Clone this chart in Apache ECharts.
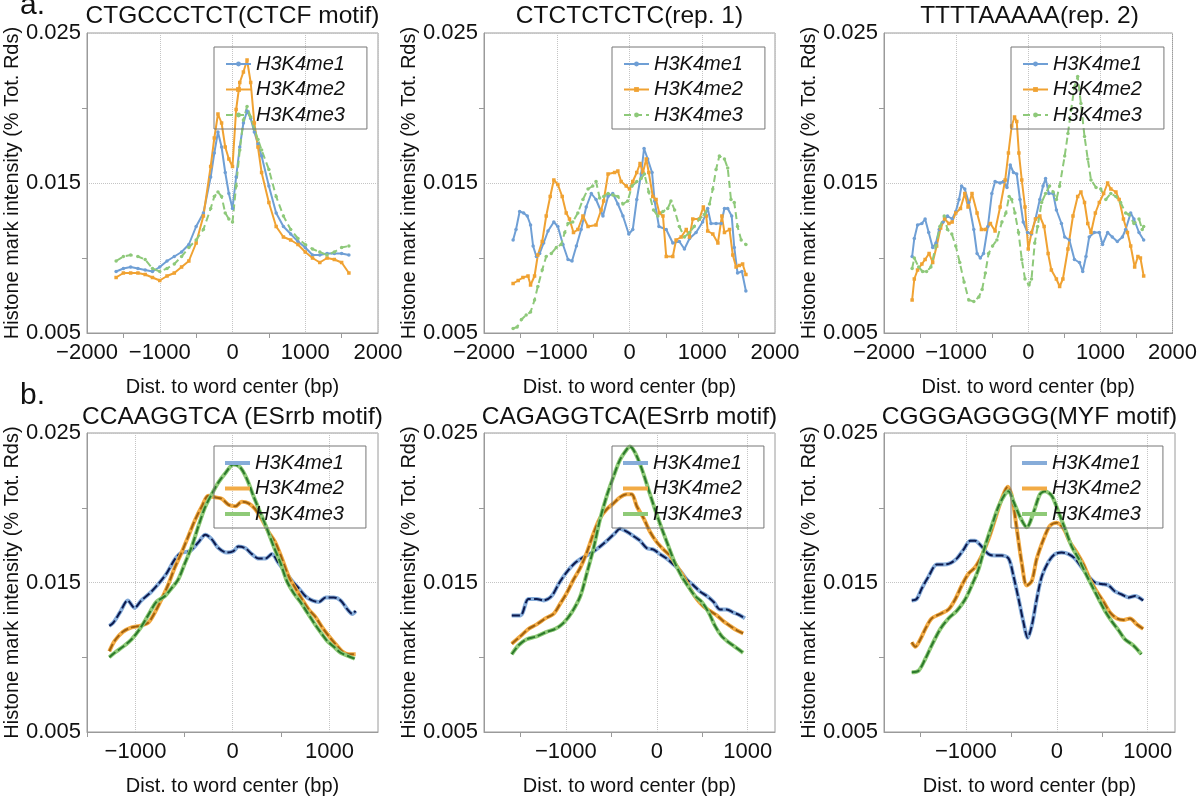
<!DOCTYPE html>
<html><head><meta charset="utf-8">
<script src="https://cdn.jsdelivr.net/npm/echarts@6/dist/echarts.min.js"></script>
<style>html,body{margin:0;padding:0;background:#fff}#c{width:1200px;height:797px}</style>
</head><body><div id="c"></div>
<script>
// ---------------- DATA ----------------
const NAMES = ['H3K4me1', 'H3K4me2', 'H3K4me3'];
const TITLES = ['CTGCCCTCT(CTCF motif)', 'CTCTCTCTC(rep. 1)', 'TTTTAAAAA(rep. 2)',
                'CCAAGGTCA (ESrrb motif)', 'CAGAGGTCA(ESrrb motif)', 'CGGGAGGGG(MYF motif)'];
const PANEL_TAGS = ['a.', 'b.'];
const X_TITLE = 'Dist. to word center (bp)';
const Y_TITLE = 'Histone mark intensity (% Tot. Rds)';
const Y_RANGE = [0.005, 0.025];
const Y_LABELS = [0.005, 0.015, 0.025];
const Y_MINOR = [0.010, 0.020];
const X_RANGES = [[-2000, 2000], [-2000, 2000], [-2000, 2000], [-1500, 1500], [-1900, 1300], [-1900, 1300]];
const X_LABELS_A = [-2000, -1000, 0, 1000, 2000];
const X_MINOR_A = [-1500, -500, 500, 1500];
const X_LABELS_B = [-1000, 0, 1000];
const X_MINOR_B = [-1500, -500, 500];

// panel a1: CTGCCCTCT
const A1_ME1 = [[-1600,.0091],[-1500,.0093],[-1400,.0094],[-1300,.0093],[-1200,.0092],[-1100,.0091],[-1000,.0094],[-900,.0098],[-800,.0101],[-700,.0104],[-600,.0109],[-500,.0121],[-400,.0130],[-300,.0154],[-250,.0170],[-200,.0184],[-150,.0174],[-100,.0157],[-50,.0143],[0,.0133],[50,.0154],[100,.0174],[150,.0190],[200,.0198],[250,.0193],[300,.0184],[350,.0176],[400,.0168],[500,.0148],[600,.0130],[700,.0121],[800,.0116],[900,.0111],[1000,.0107],[1100,.0102],[1200,.0102],[1300,.0103],[1400,.0103],[1500,.0103],[1600,.0102]];
const A1_ME2 = [[-1600,.0087],[-1500,.0090],[-1400,.0090],[-1300,.0090],[-1200,.0089],[-1100,.0087],[-1000,.0085],[-900,.0088],[-800,.0090],[-700,.0094],[-600,.0098],[-500,.0110],[-400,.0128],[-300,.0161],[-250,.0180],[-200,.0196],[-150,.0190],[-100,.0174],[-50,.0166],[0,.0161],[50,.0199],[100,.0217],[150,.0224],[200,.0232],[250,.0217],[300,.0190],[350,.0174],[400,.0157],[500,.0137],[600,.0121],[700,.0114],[800,.0112],[900,.0109],[1000,.0104],[1100,.0100],[1200,.0097],[1300,.0100],[1400,.0099],[1500,.0097],[1600,.0090]];
const A1_ME3 = [[-1600,.0098],[-1500,.0101],[-1400,.0102],[-1300,.0101],[-1200,.0099],[-1100,.0093],[-1000,.0091],[-900,.0093],[-800,.0096],[-700,.0101],[-600,.0107],[-500,.0112],[-400,.0119],[-300,.0133],[-250,.0141],[-200,.0144],[-150,.0141],[-100,.0130],[-50,.0126],[0,.0124],[50,.0148],[100,.0172],[150,.0192],[200,.0201],[250,.0194],[300,.0186],[350,.0179],[400,.0172],[500,.0159],[600,.0141],[700,.0128],[800,.0119],[900,.0113],[1000,.0109],[1100,.0106],[1200,.0104],[1300,.0102],[1400,.0104],[1500,.0107],[1600,.0108]];

// panel a2: CTCTCTCTC
const A2_ME1 = [[-1600,.0112],[-1560,.0119],[-1510,.0131],[-1455,.0130],[-1405,.0128],[-1360,.0122],[-1325,.0108],[-1280,.0101],[-1235,.0103],[-1180,.0110],[-1120,.0118],[-1040,.0124],[-985,.0121],[-915,.0109],[-845,.0099],[-790,.0098],[-730,.0108],[-665,.0119],[-595,.0134],[-525,.0143],[-460,.0139],[-365,.0128],[-295,.0141],[-230,.0143],[-160,.0136],[-90,.0128],[-10,.0116],[45,.0119],[100,.0139],[160,.0156],[200,.0173],[250,.0166],[310,.0157],[345,.0138],[405,.0121],[505,.0119],[595,.0110],[685,.0111],[755,.0106],[825,.0113],[915,.0117],[1005,.0124],[1075,.0133],[1120,.0123],[1190,.0123],[1260,.0123],[1305,.0133],[1350,.0133],[1405,.0128],[1440,.0107],[1485,.0090],[1545,.0091],[1600,.0078]];
const A2_ME2 = [[-1600,.0083],[-1530,.0085],[-1465,.0087],[-1395,.0088],[-1360,.0082],[-1305,.0088],[-1260,.0102],[-1200,.0111],[-1145,.0128],[-1090,.0141],[-1040,.0152],[-985,.0149],[-925,.0141],[-870,.0130],[-825,.0126],[-770,.0117],[-710,.0119],[-640,.0128],[-570,.0121],[-460,.0122],[-390,.0132],[-355,.0138],[-295,.0156],[-205,.0157],[-160,.0158],[-115,.0151],[-45,.0148],[0,.0146],[45,.0151],[100,.0157],[145,.0163],[185,.0157],[230,.0166],[265,.0157],[320,.0141],[365,.0139],[410,.0130],[460,.0128],[505,.0101],[595,.0101],[640,.0112],[710,.0114],[780,.0119],[825,.0114],[870,.0126],[960,.0126],[1015,.0134],[1055,.0128],[1075,.0118],[1145,.0116],[1215,.0110],[1270,.0128],[1305,.0117],[1375,.0119],[1420,.0102],[1465,.0094],[1510,.0095],[1555,.0096],[1600,.0089]];
const A2_ME3 = [[-1600,.0053],[-1545,.0054],[-1485,.0059],[-1420,.0062],[-1360,.0064],[-1305,.0072],[-1260,.0081],[-1200,.0092],[-1145,.0101],[-1075,.0103],[-1005,.0107],[-940,.0109],[-890,.0117],[-845,.0123],[-780,.0124],[-710,.0130],[-640,.0139],[-570,.0146],[-505,.0148],[-460,.0151],[-410,.0140],[-355,.0141],[-295,.0143],[-230,.0142],[-160,.0141],[-90,.0136],[-25,.0138],[35,.0148],[100,.0151],[160,.0153],[205,.0156],[265,.0144],[330,.0132],[390,.0128],[460,.0131],[525,.0133],[570,.0138],[620,.0132],[685,.0121],[755,.0114],[825,.0117],[890,.0121],[960,.0126],[1030,.0129],[1100,.0136],[1145,.0146],[1190,.0159],[1235,.0168],[1305,.0166],[1350,.0160],[1395,.0139],[1440,.0137],[1485,.0121],[1535,.0112],[1600,.0109]];

// panel a3: TTTTAAAAA
const A3_ME1 = [[-1610,.0101],[-1580,.0113],[-1535,.0122],[-1475,.0123],[-1430,.0126],[-1380,.0117],[-1325,.0107],[-1280,.0110],[-1235,.0119],[-1180,.0124],[-1120,.0128],[-1055,.0126],[-1005,.0131],[-960,.0139],[-925,.0148],[-880,.0146],[-825,.0137],[-755,.0119],[-710,.0103],[-665,.0100],[-620,.0103],[-560,.0121],[-505,.0143],[-460,.0151],[-390,.0150],[-345,.0151],[-295,.0147],[-250,.0162],[-205,.0157],[-160,.0156],[-115,.0139],[-70,.0124],[-10,.0117],[45,.0116],[100,.0126],[160,.0139],[205,.0148],[240,.0153],[285,.0143],[345,.0143],[390,.0132],[460,.0123],[505,.0114],[570,.0112],[640,.0099],[710,.0097],[755,.0091],[800,.0101],[845,.0114],[915,.0117],[985,.0117],[1030,.0109],[1100,.0117],[1165,.0114],[1235,.0111],[1305,.0114],[1350,.0119],[1420,.0130],[1465,.0126],[1535,.0117],[1600,.0112]];
const A3_ME2 = [[-1610,.0072],[-1580,.0086],[-1535,.0092],[-1475,.0096],[-1430,.0099],[-1375,.0103],[-1325,.0097],[-1270,.0108],[-1215,.0120],[-1160,.0126],[-1100,.0123],[-1055,.0124],[-1005,.0130],[-940,.0133],[-880,.0143],[-835,.0134],[-780,.0143],[-710,.0130],[-650,.0119],[-595,.0119],[-525,.0123],[-460,.0118],[-390,.0134],[-320,.0152],[-275,.0170],[-230,.0188],[-190,.0194],[-160,.0191],[-130,.0170],[-90,.0152],[-45,.0134],[0,.0106],[45,.0117],[100,.0126],[160,.0128],[220,.0121],[275,.0103],[320,.0092],[390,.0086],[435,.0081],[480,.0086],[550,.0106],[620,.0128],[685,.0141],[730,.0144],[780,.0137],[825,.0123],[870,.0117],[930,.0130],[985,.0137],[1045,.0143],[1100,.0150],[1145,.0146],[1215,.0144],[1260,.0139],[1320,.0126],[1375,.0117],[1420,.0108],[1475,.0094],[1520,.0101],[1555,.0100],[1600,.0088]];
const A3_ME3 = [[-1610,.0093],[-1580,.0100],[-1520,.0094],[-1465,.0091],[-1410,.0091],[-1350,.0094],[-1280,.0108],[-1225,.0121],[-1165,.0128],[-1120,.0119],[-1060,.0116],[-1005,.0108],[-950,.0097],[-890,.0084],[-825,.0072],[-755,.0071],[-685,.0074],[-640,.0079],[-595,.0090],[-550,.0103],[-495,.0108],[-435,.0112],[-365,.0124],[-310,.0130],[-265,.0141],[-230,.0139],[-185,.0130],[-135,.0117],[-90,.0099],[-45,.0086],[10,.0082],[45,.0086],[90,.0110],[130,.0121],[185,.0137],[240,.0143],[295,.0148],[345,.0144],[390,.0139],[435,.0148],[505,.0168],[550,.0183],[595,.0199],[640,.0214],[685,.0221],[730,.0203],[780,.0181],[825,.0166],[870,.0152],[940,.0147],[1005,.0146],[1075,.0139],[1145,.0143],[1215,.0141],[1280,.0137],[1350,.0130],[1395,.0129],[1465,.0123],[1535,.0126],[1580,.0119],[1600,.0121]];

// panel b1: CCAAGGTCA
const B1_ME1 = [[-1270,.0121],[-1230,.0123],[-1160,.0130],[-1080,.0138],[-1010,.0133],[-940,.0138],[-850,.0143],[-765,.0149],[-680,.0156],[-590,.0166],[-525,.0170],[-440,.0171],[-350,.0177],[-280,.0182],[-215,.0179],[-145,.0173],[-60,.0170],[10,.0171],[60,.0174],[130,.0173],[200,.0169],[270,.0166],[340,.0166],[405,.0169],[475,.0163],[545,.0157],[615,.0151],[685,.0146],[750,.0141],[820,.0138],[890,.0137],[960,.0140],[1045,.0140],[1115,.0138],[1185,.0132],[1235,.0129],[1270,.0131]];
const B1_ME2 = [[-1270,.0104],[-1215,.0111],[-1130,.0117],[-1040,.0120],[-955,.0121],[-870,.0123],[-800,.0130],[-730,.0139],[-660,.0149],[-595,.0160],[-525,.0170],[-455,.0181],[-385,.0192],[-315,.0201],[-250,.0208],[-180,.0207],[-110,.0206],[-40,.0202],[30,.0201],[95,.0204],[165,.0203],[235,.0199],[305,.0192],[370,.0184],[440,.0177],[510,.0166],[580,.0154],[650,.0146],[715,.0139],[785,.0132],[855,.0127],[925,.0120],[995,.0114],[1060,.0109],[1130,.0104],[1200,.0102],[1270,.0102]];
const B1_ME3 = [[-1270,.0100],[-1215,.0103],[-1130,.0107],[-1040,.0112],[-955,.0119],[-870,.0128],[-785,.0137],[-695,.0141],[-630,.0146],[-560,.0152],[-490,.0163],[-420,.0174],[-350,.0188],[-285,.0200],[-215,.0209],[-145,.0217],[-75,.0223],[10,.0229],[80,.0227],[150,.0219],[215,.0208],[285,.0197],[355,.0186],[425,.0174],[495,.0163],[560,.0151],[630,.0143],[700,.0137],[770,.0130],[840,.0123],[905,.0117],[975,.0111],[1045,.0107],[1115,.0103],[1185,.0101],[1260,.0099]];

// panel b2: CAGAGGTCA
const B2_ME1 = [[-1595,.0128],[-1500,.0128],[-1410,.0139],[-1320,.0139],[-1245,.0138],[-1155,.0141],[-1080,.0149],[-990,.0157],[-900,.0163],[-805,.0167],[-715,.0170],[-625,.0174],[-530,.0179],[-460,.0183],[-405,.0186],[-330,.0184],[-255,.0181],[-185,.0178],[-110,.0173],[-35,.0172],[35,.0169],[110,.0166],[185,.0162],[255,.0158],[330,.0152],[405,.0148],[475,.0144],[550,.0141],[625,.0137],[695,.0132],[770,.0132],[840,.0130],[915,.0128],[970,.0126]];
const B2_ME2 = [[-1595,.0109],[-1500,.0114],[-1410,.0119],[-1320,.0122],[-1225,.0126],[-1135,.0129],[-1060,.0136],[-990,.0143],[-915,.0152],[-840,.0160],[-770,.0170],[-695,.0183],[-625,.0193],[-550,.0199],[-475,.0203],[-405,.0207],[-330,.0209],[-275,.0209],[-220,.0201],[-145,.0193],[-75,.0184],[0,.0177],[75,.0172],[145,.0168],[220,.0161],[295,.0154],[365,.0146],[440,.0139],[515,.0134],[585,.0131],[660,.0128],[735,.0124],[805,.0121],[880,.0118],[950,.0116]];
const B2_ME3 = [[-1595,.0102],[-1520,.0108],[-1430,.0112],[-1320,.0114],[-1210,.0117],[-1115,.0119],[-1025,.0123],[-935,.0130],[-840,.0141],[-770,.0156],[-695,.0173],[-625,.0192],[-550,.0208],[-475,.0221],[-405,.0232],[-330,.0239],[-295,.0241],[-240,.0237],[-165,.0226],[-90,.0212],[-20,.0199],[55,.0186],[130,.0174],[200,.0163],[275,.0154],[350,.0147],[420,.0141],[495,.0137],[570,.0130],[640,.0121],[715,.0114],[790,.0110],[860,.0107],[950,.0103]];

// panel b3: CGGGAGGGG
const B3_ME1 = [[-1595,.0138],[-1540,.0139],[-1485,.0146],[-1410,.0154],[-1320,.0162],[-1245,.0162],[-1170,.0163],[-1100,.0166],[-1025,.0172],[-950,.0178],[-900,.0178],[-825,.0174],[-750,.0169],[-680,.0168],[-605,.0168],[-530,.0166],[-475,.0154],[-420,.0139],[-365,.0123],[-320,.0113],[-275,.0121],[-220,.0139],[-165,.0154],[-90,.0164],[-20,.0169],[55,.0170],[130,.0169],[200,.0166],[275,.0160],[350,.0154],[420,.0150],[495,.0149],[570,.0148],[640,.0144],[715,.0142],[790,.0140],[860,.0141],[950,.0138]];
const B3_ME2 = [[-1595,.0110],[-1555,.0107],[-1500,.0112],[-1445,.0119],[-1375,.0126],[-1280,.0129],[-1190,.0132],[-1115,.0139],[-1045,.0148],[-970,.0156],[-900,.0160],[-825,.0168],[-750,.0179],[-680,.0192],[-605,.0206],[-540,.0214],[-495,.0208],[-440,.0186],[-385,.0163],[-330,.0148],[-275,.0151],[-220,.0166],[-145,.0179],[-75,.0188],[0,.0190],[75,.0186],[145,.0177],[220,.0170],[295,.0162],[365,.0152],[440,.0144],[515,.0137],[585,.0130],[660,.0126],[735,.0125],[805,.0126],[880,.0122],[950,.0119]];
const B3_ME3 = [[-1595,.0090],[-1520,.0091],[-1445,.0099],[-1375,.0108],[-1280,.0119],[-1190,.0126],[-1100,.0131],[-1005,.0139],[-935,.0148],[-860,.0159],[-790,.0174],[-715,.0188],[-640,.0201],[-570,.0209],[-530,.0211],[-475,.0204],[-405,.0194],[-330,.0187],[-255,.0197],[-185,.0209],[-130,.0211],[-55,.0208],[20,.0197],[90,.0186],[165,.0174],[240,.0166],[310,.0157],[385,.0148],[460,.0139],[530,.0131],[605,.0124],[680,.0118],[750,.0112],[840,.0108],[930,.0102]];

const PANEL_SERIES = [
  [A1_ME1, A1_ME2, A1_ME3], [A2_ME1, A2_ME2, A2_ME3], [A3_ME1, A3_ME2, A3_ME3],
  [B1_ME1, B1_ME2, B1_ME3], [B2_ME1, B2_ME2, B2_ME3], [B3_ME1, B3_ME2, B3_ME3]
];

// ---------------- LAYOUT / STYLE ----------------
const FONT = "'Liberation Sans', Arial, Helvetica, sans-serif";
const GRIDS = [
  {left: 87, top: 33, width: 291, height: 300},
  {left: 484, top: 33, width: 291, height: 300},
  {left: 884, top: 33, width: 291, height: 300},
  {left: 87, top: 433, width: 291, height: 300},
  {left: 484, top: 433, width: 291, height: 300},
  {left: 884, top: 433, width: 291, height: 300}
];
const LEGEND_POS = [[214, 47], [612, 47], [1011, 47], [214, 446], [612, 446], [1011, 446]];
const TITLE_TOP = [4, 4, 4, 405, 405, 405];
const C_LINE = ['#6f9fd5', '#f0a232', '#8ec97a'];
const C_LIGHT = ['#86acd9', '#f2ab45', '#8fca78'];
const C_DARK = ['#0c1a4e', '#a2620f', '#2c7a2c'];
const SYMBOLS = ['circle', 'rect', 'circle'];
const AXIS_COLOR = '#9a9a9a';
const TXT = '#111';

const fmtX = v => v < 0 ? '\u2212' + Math.abs(v) : String(v);
const fmtY = v => Number(v).toFixed(3);

const grid = [], xAxis = [], yAxis = [], series = [], legend = [], title = [];
for (let p = 0; p < 6; p++) {
  const isA = p < 3;
  grid.push(Object.assign({show: true, borderColor: AXIS_COLOR, borderWidth: 1, containLabel: false}, GRIDS[p]));
  const [xmin, xmax] = X_RANGES[p];
  const xl = isA ? X_LABELS_A : X_LABELS_B;
  const xm = isA ? X_MINOR_A : X_MINOR_B;
  xAxis.push({
    gridIndex: p, type: 'value', position: 'bottom', min: xmin, max: xmax,
    name: X_TITLE, nameLocation: 'middle', nameGap: 44,
    nameTextStyle: {fontFamily: FONT, fontSize: 20, color: TXT},
    axisLine: {show: true, onZero: false, lineStyle: {color: AXIS_COLOR}},
    axisTick: {show: false, customValues: xl},
    axisLabel: {customValues: xl, formatter: fmtX, fontFamily: FONT, fontSize: 22, color: TXT, margin: 9},
    splitLine: {show: true, lineStyle: {type: 'dotted', color: '#c4c4c4', width: 1}}
  });
  xAxis.push({
    gridIndex: p, type: 'value', position: 'bottom', min: xmin, max: xmax,
    axisLine: {show: false, onZero: false}, axisLabel: {show: false}, splitLine: {show: false},
    axisTick: {show: true, customValues: xm, length: 5, lineStyle: {color: AXIS_COLOR}}
  });
  yAxis.push({
    gridIndex: p, type: 'value', position: 'left', min: Y_RANGE[0], max: Y_RANGE[1],
    name: Y_TITLE, nameLocation: 'middle', nameGap: 63,
    nameTextStyle: {fontFamily: FONT, fontSize: 20, color: TXT},
    axisLine: {show: true, onZero: false, lineStyle: {color: AXIS_COLOR}},
    axisTick: {show: false, customValues: Y_LABELS},
    axisLabel: {customValues: Y_LABELS, formatter: fmtY, fontFamily: FONT, fontSize: 22, color: TXT, margin: 6},
    splitLine: {show: true, lineStyle: {type: 'dotted', color: '#c4c4c4', width: 1}}
  });
  yAxis.push({
    gridIndex: p, type: 'value', position: 'left', min: Y_RANGE[0], max: Y_RANGE[1],
    axisLine: {show: false, onZero: false}, axisLabel: {show: false}, splitLine: {show: false},
    axisTick: {show: true, customValues: Y_MINOR, length: 5, lineStyle: {color: AXIS_COLOR}}
  });

  const data = PANEL_SERIES[p];
  for (let k = 0; k < 3; k++) {
    if (isA) {
      series.push({
        type: 'line', name: NAMES[k], xAxisIndex: 2 * p, yAxisIndex: 2 * p, data: data[k],
        symbol: SYMBOLS[k], symbolSize: 3.5, showSymbol: true, animation: false,
        lineStyle: {color: C_LINE[k], width: 2, type: k === 2 ? [7, 4] : 'solid'},
        itemStyle: {color: C_LINE[k]}
      });
    } else {
      series.push({
        type: 'line', name: NAMES[k], xAxisIndex: 2 * p, yAxisIndex: 2 * p, data: data[k],
        symbol: 'none', showSymbol: false, smooth: 0.3, animation: false,
        lineStyle: {color: C_LIGHT[k], width: 4}, itemStyle: {color: C_LIGHT[k]}
      });
      series.push({
        type: 'line', name: NAMES[k] + ' (fit)', xAxisIndex: 2 * p, yAxisIndex: 2 * p, data: data[k],
        symbol: 'none', showSymbol: false, smooth: 0.3, animation: false,
        lineStyle: {color: C_DARK[k], width: 2, type: [8, 3]}, itemStyle: {color: C_DARK[k]}
      });
    }
  }

  legend.push({
    left: LEGEND_POS[p][0], top: LEGEND_POS[p][1], orient: 'vertical',
    data: isA ? NAMES.slice() : NAMES.map((n, k) => ({name: n, icon: 'rect', itemStyle: {color: C_LIGHT[k], borderWidth: 0}})),
    itemWidth: 25, itemHeight: isA ? 6 : 4, itemGap: 5.5,
    padding: [7, 22, 4, 11], borderColor: '#777', borderWidth: 1, selectedMode: false,
    textStyle: {fontFamily: FONT, fontSize: 20, fontStyle: 'italic', color: TXT}
  });

  title.push({
    text: TITLES[p], left: GRIDS[p].left + GRIDS[p].width / 2, top: TITLE_TOP[p], textAlign: 'center', padding: 0,
    textStyle: {fontFamily: FONT, fontSize: 24.5, fontWeight: 'normal', color: TXT}
  });
}

const chart = echarts.init(document.getElementById('c'));
chart.setOption({
  backgroundColor: '#fff',
  animation: false,
  title, grid, xAxis, yAxis, series, legend,
  graphic: [
    {type: 'text', x: 20, y: 6, style: {text: PANEL_TAGS[0], font: "30px 'Liberation Sans', Arial, sans-serif", fill: TXT, verticalAlign: 'middle'}},
    {type: 'text', x: 20, y: 396, style: {text: PANEL_TAGS[1], font: "30px 'Liberation Sans', Arial, sans-serif", fill: TXT, verticalAlign: 'middle'}}
  ]
});
</script></body></html>
